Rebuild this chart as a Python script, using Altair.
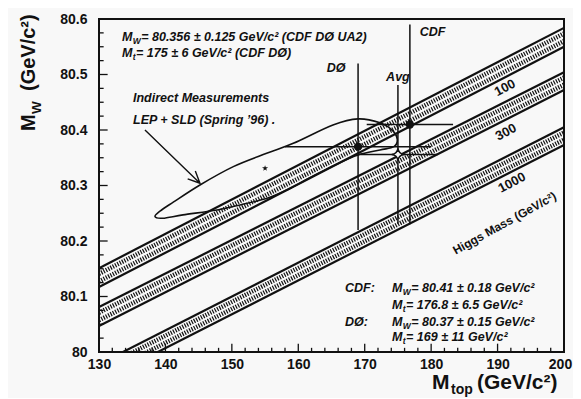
import altair as alt
import pandas as pd

# ---------------- data ----------------
higgs_mass = ["100", "300", "1000"]
band_mt = [130, 200]
band_low_130 = [80.117, 80.047, 79.946]
band_high_130 = [80.151, 80.081, 79.978]
band_low_200 = [80.550, 80.472, 80.373]
band_high_200 = [80.584, 80.504, 80.405]

exp_name = ["DØ", "CDF", "Avg"]
exp_mt = [169.0, 176.8, 175.0]
exp_mt_err = [11.0, 6.5, 6.0]
exp_mw = [80.37, 80.41, 80.356]
exp_mw_err = [0.15, 0.18, 0.125]

contour_mt = [138.43, 139.2, 141.18, 145.20, 150.22, 155.24, 159.25, 165.22, 168.99,
              172.30, 174.2, 174.9, 174.4, 172.30, 168.99, 165.53, 161.76,
              158.30, 155.29, 151.23, 147.76, 142.64, 139.6]
contour_mw = [80.244, 80.254, 80.270, 80.301, 80.334, 80.358, 80.376, 80.409, 80.420,
              80.413, 80.399, 80.383, 80.370, 80.364, 80.355, 80.337, 80.314,
              80.292, 80.277, 80.265, 80.256, 80.247, 80.241]

fit_mt = [155.0]
fit_mw = [80.331]

x_major = [130, 140, 150, 160, 170, 180, 190, 200]
x_minor = [v for v in range(130, 201, 2) if v % 10]
y_major = [80.0, 80.1, 80.2, 80.3, 80.4, 80.5, 80.6]
y_minor = [round(80 + k * 0.025, 3) for k in range(25) if k % 4]

# ---------------- styling ----------------
INK = "#111111"
BG = "#f8f8f8"
FONT = "Liberation Sans"

xs = alt.Scale(domain=[130, 200], nice=False, zero=False)
ys = alt.Scale(domain=[80.0, 80.6], nice=False, zero=False)

xaxis = alt.Axis(values=x_major, format="d", title=None, ticks=False, domain=False,
                 grid=False, labelFont=FONT, labelFontWeight="bold", labelFontSize=14,
                 labelPadding=5, labelColor=INK, labelFlush=False, labelOverlap=False,
                 labelOffset={"condition": {"test": "datum.value == 200", "value": -4},
                              "value": 0})
yaxis = alt.Axis(values=y_major, title=None, ticks=False, domain=False, grid=False,
                 labelFont=FONT, labelFontWeight="bold", labelFontSize=14,
                 labelPadding=12, labelColor=INK, labelFlush=False, labelOverlap=False,
                 labelExpr="datum.value == 80 ? '80' : format(datum.value, '.1f')")


def X(f="x"):
    return alt.X(f, type="quantitative", scale=xs, axis=xaxis)


def Y(f="y"):
    return alt.Y(f, type="quantitative", scale=ys, axis=yaxis)


layers = []

# ---------------- Higgs bands ----------------
rows = []
for i, h in enumerate(higgs_mass):
    for xv, lo, hi in ((band_mt[0], band_low_130[i], band_high_130[i]),
                       (band_mt[1], band_low_200[i], band_high_200[i])):
        rows.append({"band": h, "x": xv, "lo": lo, "hi": hi,
                     "h1": lo + (hi - lo) * 0.3, "h2": lo + (hi - lo) * 0.7})
bands = pd.DataFrame(rows)

for col in ("lo", "hi"):
    layers.append(alt.Chart(bands).mark_line(color=INK, strokeWidth=2.2, clip=True).encode(
        x=X(), y=Y(col), detail="band:N"))
for col in ("h1", "h2"):
    layers.append(alt.Chart(bands).mark_line(color=INK, strokeWidth=4.5, strokeDash=[1.2, 1.4],
                                             clip=True).encode(
        x=X(), y=Y(col), detail="band:N"))

# ---------------- indirect contour ----------------
cont = pd.DataFrame({"x": contour_mt, "y": contour_mw, "o": list(range(len(contour_mt)))})
layers.append(alt.Chart(cont).mark_line(color=INK, strokeWidth=1.6,
                                        interpolate="cardinal-closed").encode(
    x=X(), y=Y(), order="o:Q"))

# arrow to contour
arrow = pd.DataFrame({"x": [136.92, 145.20, 144.50, 145.20, 143.35],
                      "y": [80.400, 80.304, 80.326, 80.304, 80.312],
                      "o": [0, 1, 2, 3, 4]})
layers.append(alt.Chart(arrow).mark_line(color=INK, strokeWidth=1.4).encode(
    x=X(), y=Y(), order="o:Q"))

# best-fit star
star_path = ("M0,-1 L0.2245,-0.309 L0.951,-0.309 L0.363,0.118 L0.588,0.809 L0,0.382 "
             "L-0.588,0.809 L-0.363,0.118 L-0.951,-0.309 L-0.2245,-0.309 Z")
fit = pd.DataFrame({"x": fit_mt, "y": fit_mw})
layers.append(alt.Chart(fit).mark_point(shape=star_path, filled=True, color=INK, size=40,
                                        opacity=1).encode(x=X(), y=Y()))

# ---------------- measurements ----------------
exp = pd.DataFrame({"name": exp_name, "mt": exp_mt, "mw": exp_mw})
exp["mt_lo"] = [m - e for m, e in zip(exp_mt, exp_mt_err)]
exp["mt_hi"] = [m + e for m, e in zip(exp_mt, exp_mt_err)]
exp["mw_lo"] = [m - e for m, e in zip(exp_mw, exp_mw_err)]
exp["mw_hi"] = [m + e for m, e in zip(exp_mw, exp_mw_err)]

layers.append(alt.Chart(exp).mark_rule(color=INK, strokeWidth=1.5).encode(
    x=X("mt_lo"), x2="mt_hi", y=Y("mw")))
layers.append(alt.Chart(exp).mark_rule(color=INK, strokeWidth=1.5).encode(
    x=X("mt"), y=Y("mw_lo"), y2="mw_hi"))
layers.append(alt.Chart(exp[exp["name"] != "Avg"]).mark_point(
    filled=True, color=INK, size=70, opacity=1, shape="circle").encode(x=X("mt"), y=Y("mw")))
avg_path = "M0,-1 Q0.12,-0.12 1,0 Q0.12,0.12 0,1 Q-0.12,0.12 -1,0 Q-0.12,-0.12 0,-1 Z"
layers.append(alt.Chart(exp[exp["name"] == "Avg"]).mark_point(
    shape=avg_path, filled=True, fill=BG, stroke=INK, strokeWidth=1.5, size=150,
    opacity=1).encode(x=X("mt"), y=Y("mw")))


# ---------------- axis ticks (inward) ----------------
def tick_df(vals, const, length, axis):
    if axis == "x":
        return pd.DataFrame({"x": vals, "y": [const] * len(vals),
                             "y2": [const + length] * len(vals)})
    return pd.DataFrame({"y": vals, "x": [const] * len(vals), "x2": [const + length] * len(vals)})


for vals, ln in ((x_major, 0.015), (x_minor, 0.0075)):
    layers.append(alt.Chart(tick_df(vals, 80.0, ln, "x")).mark_rule(
        color=INK, strokeWidth=1.3).encode(x=X(), y=Y(), y2="y2"))
for vals, ln in ((y_major, 1.3), (y_minor, 0.7)):
    layers.append(alt.Chart(tick_df(vals, 130.0, ln, "y")).mark_rule(
        color=INK, strokeWidth=1.3).encode(x=X(), x2="x2", y=Y()))


# ---------------- annotations ----------------
def txt(x, y, s, size=12.5, dx=0, dy=0, italic=True, align="left", angle=0):
    return alt.Chart(pd.DataFrame({"x": [x], "y": [y], "t": [s]})).mark_text(
        font=FONT, fontWeight="bold", fontStyle="italic" if italic else "normal",
        fontSize=size, dx=dx, dy=dy, align=align, baseline="middle", angle=angle,
        color=INK).encode(x=X(), y=Y(), text="t:N")


def mline(x, y, sub, rest, size=12.5):
    out = [txt(x, y, "M", size=size)]
    w_m = 0.833 * size
    subsize = size * 0.68
    out.append(txt(x, y, sub, size=subsize, dx=w_m + 0.3, dy=size * 0.32))
    w_sub = (0.944 if sub == "W" else 0.333) * subsize
    out.append(txt(x, y, rest, size=size, dx=w_m + w_sub + 0.8))
    return out


layers += mline(133.46, 80.568, "W", " = 80.356 ± 0.125 GeV/c² (CDF DØ UA2)")
layers += mline(133.46, 80.539, "t", " = 175 ± 6 GeV/c² (CDF DØ)")
layers.append(txt(135.12, 80.458, "Indirect Measurements", size=12.5))
layers.append(txt(135.12, 80.418, "LEP + SLD (Spring ’96) .", size=12.5))
layers.append(txt(165.68, 80.512, "DØ", size=12.5, align="center"))
layers.append(txt(175.0, 80.495, "Avg", size=12.5, align="center"))
layers.append(txt(180.2, 80.577, "CDF", size=12.5, align="center"))

layers.append(txt(191.12, 80.476, "100", size=13, italic=False, align="center", angle=332))
layers.append(txt(191.27, 80.396, "300", size=13, italic=False, align="center", angle=332))
layers.append(txt(192.17, 80.305, "1000", size=13, italic=False, align="center", angle=332))
layers.append(txt(191.04, 80.232, "Higgs Mass (GeV/c²)", size=12, italic=False,
                  align="center", angle=331))

layers.append(txt(167.03, 80.115, "CDF:", size=12.5))
layers.append(txt(167.03, 80.054, "DØ:", size=12.5))
layers += mline(174.11, 80.115, "W", " = 80.41 ± 0.18 GeV/c²")
layers += mline(174.11, 80.085, "t", " = 176.8 ± 6.5 GeV/c²")
layers += mline(174.11, 80.054, "W", " = 80.37 ± 0.15 GeV/c²")
layers += mline(174.11, 80.027, "t", " = 169 ± 11 GeV/c²")


# ---------------- axis titles (pixel placed) ----------------
def ptxt(px, py, s, size, dx=0, dy=0, angle=0):
    return alt.Chart(pd.DataFrame({"t": [s]})).mark_text(
        font=FONT, fontWeight="bold", fontSize=size, dx=dx, dy=dy, align="left",
        baseline="alphabetic", angle=angle, color=INK).encode(
        x=alt.value(px), y=alt.value(py), text="t:N")


layers.append(ptxt(333, 370, "M", 21))
layers.append(ptxt(333, 370, "top", 14, dx=19, dy=5))
layers.append(ptxt(333, 370, "(GeV/c²)", 21, dx=45))

layers.append(ptxt(-64, 112, "M", 20, angle=270))
layers.append(ptxt(-64, 112, "W", 13.5, dx=17, dy=6, angle=270))
layers.append(ptxt(-64, 112, "(GeV/c²)", 20, dx=40, angle=270))

chart = alt.layer(*layers).properties(
    width=465, height=333,
    autosize=alt.AutoSizeParams(type="none"),
    padding={"left": 91, "top": 11, "right": 9, "bottom": 46},
    background=BG,
).configure_view(stroke=INK, strokeWidth=2, fill=None)

chart.save("out.html", embed_options={"renderer": "svg", "actions": False})
